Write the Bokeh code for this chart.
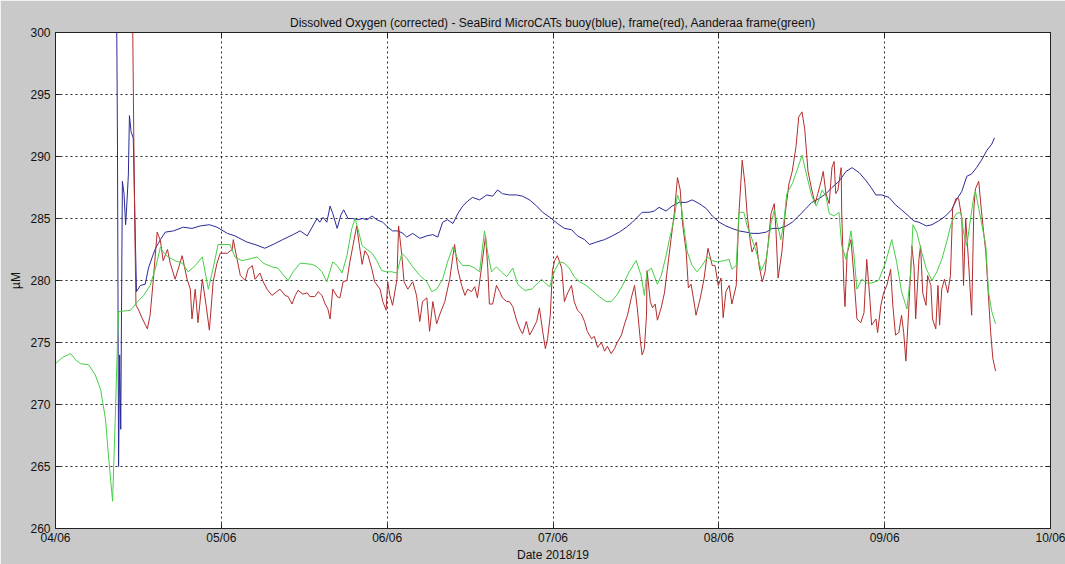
from bokeh.plotting import figure
from bokeh.models import Range1d, FixedTicker, LinearAxis
from bokeh.embed import file_html
from bokeh.resources import INLINE

# ---- data (days since 04/06, dissolved oxygen in µM) ----
tick_days = [0, 30.5, 61, 91.5, 122, 152.5, 183]
tick_labels = ["04/06", "05/06", "06/06", "07/06", "08/06", "09/06", "10/06"]
y_ticks = [260, 265, 270, 275, 280, 285, 290, 295, 300]

blue_day = [11.2, 11.4, 11.6, 11.8, 12.0, 12.3, 12.6, 12.9, 13.1, 13.4,
            13.6, 13.9, 14.3, 14.7, 14.9, 15.6, 16.5, 17.1, 17.8, 18.4,
            19.3, 20.2, 21.7, 23.5, 25.1, 26.6, 28.3, 29.7, 31.6, 33.0,
            35.2, 36.7, 38.5, 40.0, 41.8, 43.7, 45.0, 46.3, 47.2, 48.1,
            48.6, 49.2, 49.9, 50.5, 51.0, 51.8, 52.5, 53.0, 53.8, 54.7,
            55.6, 56.5, 57.3, 58.2, 59.1, 60.2, 61.1, 62.0, 63.0, 63.9,
            64.6, 65.7, 67.0, 68.3, 69.4, 70.3, 71.2, 72.1, 73.1, 74.0,
            74.9, 75.8, 76.7, 78.0, 79.3, 80.4, 81.3, 82.2, 83.5, 84.8,
            85.9, 87.2, 88.5, 89.6, 91.2, 92.3, 93.6, 94.9, 96.0, 97.3,
            98.2, 99.5, 101.0, 102.4, 103.7, 105.0, 106.1, 107.0, 107.9, 109.2,
            110.1, 111.0, 112.3, 113.4, 114.7, 116.0, 117.1, 118.4, 119.7, 120.8,
            122.1, 123.3, 124.4, 125.7, 127.0, 128.1, 129.4, 130.7, 131.8, 133.1,
            134.4, 135.5, 136.7, 138.0, 139.1, 140.4, 141.7, 142.8, 144.1, 145.4,
            146.5, 147.8, 149.0, 150.0, 150.9, 152.0, 153.3, 154.5, 155.6, 156.9,
            157.9, 158.8, 159.7, 160.2, 161.2, 162.4, 163.7, 164.8, 165.7, 166.7,
            167.6, 168.5, 169.4, 170.3, 171.3, 172.2, 172.7]
blue_val = [305, 291, 265, 274, 268, 288, 287, 284.5, 286, 288.5,
            293.3, 292, 291.5, 283, 279.1, 279.6, 279.7, 281, 281.9, 282.6,
            283.3, 283.9, 284.0, 284.3, 284.2, 284.4, 284.5, 284.3, 283.8, 283.6,
            283.1, 282.9, 282.6, 282.9, 283.3, 283.7, 284.0, 283.6, 284.3, 285.0,
            284.7, 285.1, 284.7, 286.0, 285.4, 284.2, 285.3, 285.7, 285.0, 285.0,
            284.9, 285.0, 284.9, 285.2, 284.9, 284.7, 284.3, 284.0, 284.0, 283.8,
            283.5, 283.8, 283.4, 283.6, 283.7, 283.5, 284.7, 284.9, 284.6, 285.4,
            286.0, 286.4, 286.7, 286.5, 286.9, 286.8, 287.3, 287.0, 286.9, 286.9,
            286.8, 286.5, 286.0, 285.5, 285.0, 284.6, 284.2, 284.1, 283.6, 283.3,
            282.9, 283.1, 283.3, 283.6, 283.9, 284.3, 284.7, 285.1, 285.5, 285.5,
            285.6, 285.9, 285.6, 286.0, 286.3, 286.3, 286.5, 286.2, 285.8, 285.2,
            284.7, 284.4, 284.2, 284.0, 283.9, 283.8, 283.8, 283.9, 284.2, 284.2,
            284.4, 284.7, 285.2, 285.8, 286.3, 286.6, 287.0, 287.5, 288.0, 288.8,
            289.1, 288.7, 288.1, 287.5, 286.9, 286.9, 286.7, 286.1, 285.7, 285.2,
            284.8, 284.7, 284.5, 284.4, 284.5, 284.8, 285.2, 285.7, 286.5, 287.2,
            288.4, 288.6, 289.1, 289.7, 290.5, 291.0, 291.5]

red_day = [14.1, 14.4, 14.6, 14.8, 15.2, 16.0, 16.9, 17.4, 18.0, 18.7,
           19.3, 19.8, 20.6, 21.1, 22.0, 23.3, 24.2, 24.8, 25.1, 25.7,
           26.2, 27.0, 27.7, 28.3, 29.0, 29.7, 30.3, 31.6, 32.5, 32.7,
           33.4, 34.0, 34.9, 35.4, 36.2, 36.7, 37.6, 38.2, 38.9, 39.8,
           40.7, 41.3, 42.2, 42.8, 43.5, 44.1, 44.6, 45.5, 46.3, 46.8,
           47.7, 48.3, 49.0, 49.6, 50.1, 50.5, 51.0, 51.8, 52.3, 52.9,
           53.6, 54.1, 54.7, 55.4, 55.8, 56.4, 56.9, 57.5, 58.2, 58.7,
           59.7, 60.2, 60.8, 61.1, 61.5, 62.0, 62.8, 63.1, 63.7, 64.1,
           64.8, 65.7, 66.4, 67.0, 67.5, 68.3, 68.8, 69.4, 70.1, 70.7,
           71.6, 72.5, 73.1, 73.4, 74.0, 74.7, 75.3, 75.8, 76.5, 77.1,
           77.6, 78.4, 79.1, 79.5, 79.8, 80.4, 81.1, 81.7, 82.2, 83.0,
           83.5, 84.1, 84.8, 85.4, 85.9, 86.6, 87.2, 87.7, 88.5, 89.0,
           89.6, 90.1, 90.5, 91.0, 91.4, 91.8, 92.3, 93.1, 93.6, 94.2,
           94.9, 95.4, 96.0, 96.7, 97.3, 97.8, 98.6, 99.1, 99.7, 100.4,
           101.0, 101.5, 102.2, 102.8, 103.3, 104.1, 104.6, 105.2, 105.9, 106.5,
           107.0, 107.6, 107.9, 108.3, 108.7, 108.8, 109.4, 109.8, 110.3, 110.7,
           111.4, 112.0, 112.5, 113.2, 113.8, 114.4, 114.9, 115.3, 116.0, 116.4,
           116.9, 117.5, 117.8, 118.6, 119.3, 120.0, 120.8, 121.3, 121.9, 122.4,
           122.8, 123.3, 123.9, 124.4, 125.2, 125.7, 126.3, 126.8, 127.2, 127.8,
           128.1, 128.9, 129.4, 130.0, 130.5, 131.1, 131.6, 132.2, 132.5, 132.9,
           133.6, 134.2, 134.9, 135.5, 136.2, 136.7, 137.3, 137.8, 138.4, 139.1,
           139.7, 140.2, 140.8, 141.2, 141.7, 142.3, 142.8, 143.2, 143.5, 143.9,
           144.5, 144.6, 145.0, 145.2, 145.6, 146.3, 146.8, 147.4, 148.1, 148.7,
           149.2, 149.8, 150.1, 150.9, 151.2, 151.8, 152.3, 152.9, 153.6, 154.0,
           154.5, 155.1, 155.6, 156.0, 156.4, 156.9, 157.5, 157.9, 158.2, 158.8,
           159.1, 159.5, 160.1, 160.4, 161.0, 161.3, 161.9, 162.3, 162.6, 163.0,
           163.5, 164.1, 164.6, 165.0, 165.6, 166.1, 166.7, 167.0, 167.4, 167.9,
           168.5, 168.9, 169.2, 169.8, 170.3, 170.7, 171.1, 171.6, 172.0, 172.4,
           172.9]
red_val = [305, 291.5, 284, 278, 277.7, 276.9, 276.1, 277.2, 280.1, 283.9,
           283.2, 281.6, 282.5, 281.4, 280.1, 282.0, 280.1, 279.3, 276.9, 279.3,
           276.6, 280.1, 278.0, 276.0, 279.9, 281.4, 282.2, 282.2, 282.5, 283.3,
           281.7, 280.4, 280.0, 280.9, 281.2, 280.1, 280.6, 279.9, 279.3, 278.8,
           279.1, 279.3, 278.8, 278.7, 278.1, 278.8, 279.2, 278.9, 279.0, 278.7,
           278.7, 279.1, 278.8, 278.1, 277.7, 276.9, 279.3, 278.7, 278.6, 279.9,
           280.0, 281.4, 282.8, 284.4, 283.1, 281.3, 282.4, 282.0, 280.9, 279.9,
           279.3, 278.3, 277.6, 279.9, 278.8, 278.0, 280.1, 284.4, 282.0, 279.9,
           279.3, 279.9, 278.8, 276.7, 278.3, 278.6, 275.9, 278.3, 276.5, 277.3,
           278.3, 280.1, 282.0, 282.9, 280.9, 279.6, 278.8, 279.3, 279.1, 279.5,
           278.6, 281.2, 283.6, 281.0, 278.1, 278.1, 279.6, 279.1, 278.6, 278.3,
           278.3, 277.9, 276.8, 276.1, 275.7, 276.7, 275.6, 276.0, 276.7, 277.8,
           275.9, 274.5, 275.3, 277.2, 280.8, 281.6, 282.0, 281.0, 278.3, 279.0,
           279.6, 278.3, 277.6, 277.3, 276.7, 275.9, 275.3, 275.5, 274.6, 275.0,
           274.3, 274.7, 274.1, 274.5, 275.0, 275.6, 276.4, 277.2, 278.6, 279.6,
           277.8, 275.0, 274.0, 274.5, 277.2, 280.8, 278.3, 277.8, 278.1, 276.8,
           277.8, 279.0, 280.8, 283.3, 285.4, 288.3, 287.3, 284.7, 282.3, 279.4,
           279.7, 278.1, 277.2, 278.6, 280.2, 282.6, 281.2, 281.2, 279.6, 280.2,
           277.0, 279.1, 279.6, 278.1, 279.6, 285.4, 289.7, 287.8, 285.4, 283.1,
           282.3, 283.1, 281.2, 279.9, 280.7, 283.1, 285.4, 286.2, 284.1, 280.2,
           282.3, 285.4, 287.8, 288.8, 290.8, 293.2, 293.6, 292.2, 288.8, 287.3,
           286.2, 287.0, 288.0, 288.8, 287.0, 286.2, 289.1, 289.6, 287.0, 287.3,
           289.1, 285.5, 279.5, 277.9, 282.2, 283.3, 280.6, 276.9, 276.6, 277.4,
           281.7, 278.4, 276.4, 276.9, 275.8, 278.0, 279.0, 279.6, 280.9, 278.0,
           275.6, 275.8, 277.2, 275.8, 273.5, 277.4, 282.8, 281.1, 276.9, 281.7,
           282.8, 279.0, 278.0, 280.4, 279.6, 276.9, 276.1, 279.6, 276.4, 279.3,
           280.1, 279.0, 280.4, 285.8, 286.6, 286.6, 285.0, 279.6, 285.0, 281.7,
           277.2, 285.8, 287.4, 288.0, 285.6, 283.9, 282.3, 278.6, 275.8, 273.7,
           272.7]

green_day = [0.0, 1.3, 2.8, 3.7, 4.6, 6.1, 7.3, 8.3, 9.2, 9.7,
             10.5, 11.0, 11.4, 11.6, 11.9, 13.8, 15.1, 16.2, 17.4, 18.4,
             19.3, 19.8, 20.7, 22.0, 23.3, 24.4, 25.7, 27.0, 28.1, 29.0,
             29.9, 30.8, 32.1, 33.0, 34.3, 35.4, 37.1, 38.2, 39.8, 40.9,
             41.8, 42.8, 43.7, 45.0, 47.2, 48.1, 49.0, 49.9, 51.0, 51.8,
             52.7, 53.6, 54.5, 55.1, 55.6, 56.4, 57.3, 58.2, 59.1, 60.0,
             60.9, 61.9, 62.8, 63.7, 64.6, 65.7, 67.0, 68.3, 69.2, 70.1,
             71.2, 72.1, 73.1, 74.0, 74.9, 76.2, 77.1, 78.0, 78.9, 79.5,
             80.2, 81.1, 82.0, 83.0, 84.1, 85.0, 86.3, 87.6, 88.5, 89.4,
             90.3, 90.9, 91.8, 92.7, 93.6, 94.5, 95.4, 96.4, 97.6, 98.7,
             100.0, 101.3, 102.2, 103.2, 104.3, 105.5, 106.8, 107.7, 108.3, 108.8,
             109.6, 110.1, 110.7, 111.4, 112.3, 112.9, 113.8, 114.4, 115.1, 115.6,
             116.2, 117.1, 118.0, 118.9, 119.9, 120.8, 121.7, 123.0, 123.9, 124.4,
             125.2, 125.7, 126.6, 127.2, 127.9, 128.9, 129.8, 130.7, 131.6, 132.2,
             132.7, 133.4, 134.0, 134.5, 135.5, 136.4, 137.3, 138.2, 139.1, 139.9,
             140.4, 141.0, 141.7, 142.3, 143.2, 144.1, 144.6, 145.4, 146.3, 146.8,
             147.4, 148.3, 149.2, 150.1, 151.4, 152.7, 153.8, 154.7, 155.6, 156.6,
             157.3, 157.7, 158.4, 159.3, 160.2, 161.2, 162.1, 163.0, 163.9, 164.8,
             165.7, 166.5, 167.0, 167.6, 168.3, 168.9, 169.2, 169.8, 170.3, 171.1,
             171.6, 172.2, 172.9]
green_val = [273.3, 273.8, 274.1, 273.6, 273.3, 273.2, 272.4, 271.2, 268.8, 266.1,
             262.2, 269.0, 275.0, 277.5, 277.5, 277.6, 278.3, 278.8, 279.6, 281.0,
             282.7, 282.3, 281.9, 281.6, 281.4, 280.7, 281.2, 281.9, 279.3, 281.0,
             282.9, 282.9, 282.9, 281.9, 281.6, 281.7, 281.9, 281.4, 281.1, 281.0,
             280.5, 280.0, 280.7, 281.4, 281.3, 281.1, 280.7, 279.9, 281.5, 281.2,
             280.6, 282.0, 284.2, 285.0, 284.2, 282.8, 282.5, 282.2, 281.6, 280.8,
             280.7, 280.7, 280.6, 282.2, 281.8, 281.1, 280.4, 279.9, 279.1, 279.3,
             280.1, 281.5, 282.7, 281.7, 281.2, 281.2, 281.0, 280.7, 284.0, 282.2,
             280.7, 281.1, 280.7, 280.3, 281.0, 279.7, 279.2, 279.3, 279.7, 280.1,
             279.7, 279.5, 280.8, 281.5, 281.4, 281.0, 280.3, 279.9, 279.6, 279.2,
             278.7, 278.3, 278.3, 278.8, 279.6, 280.7, 281.6, 280.4, 278.8, 280.7,
             281.0, 280.4, 279.7, 280.4, 282.0, 283.3, 285.0, 286.9, 286.0, 284.2,
             282.3, 281.2, 280.7, 281.2, 281.9, 281.6, 281.5, 281.6, 281.7, 280.9,
             281.2, 285.5, 285.5, 284.4, 283.6, 282.3, 280.8, 281.7, 284.6, 285.7,
             284.6, 283.3, 284.9, 287.0, 287.8, 288.9, 290.1, 288.4, 286.8, 286.0,
             286.5, 287.3, 286.8, 285.4, 285.2, 285.5, 282.8, 281.7, 284.0, 282.3,
             279.3, 280.1, 279.8, 279.8, 280.0, 281.5, 283.3, 281.5, 279.1, 277.7,
             280.7, 284.5, 283.9, 282.3, 280.9, 280.0, 280.7, 281.7, 283.1, 284.7,
             285.4, 285.5, 283.9, 282.8, 285.0, 286.8, 287.2, 285.8, 284.7, 282.8,
             279.1, 277.5, 276.5]

FONT = "Liberation Sans"
GREY = "#c9c9c9"
INK = "#111111"

p = figure(width=1065, height=564, output_backend="svg", toolbar_location=None,
           x_range=Range1d(tick_days[0], tick_days[-1]), y_range=Range1d(260, 300),
           min_border_left=55, min_border_right=15, min_border_top=32, min_border_bottom=33,
           title="Dissolved Oxygen (corrected) - SeaBird MicroCATs buoy(blue), frame(red), Aanderaa frame(green)")

p.border_fill_color = GREY
p.background_fill_color = "white"
p.outline_line_color = "#222222"
p.outline_line_width = 1

p.title.text_font = FONT
p.title.text_font_size = "12px"
p.title.text_font_style = "normal"
p.title.text_color = INK
p.title.align = "center"
p.title.standoff = 6

xt = FixedTicker(ticks=tick_days)
yt = FixedTicker(ticks=y_ticks)

# extra axes giving inward ticks on top and right (labels not painted)
p.add_layout(LinearAxis(ticker=xt, major_label_text_color=None, major_label_text_font_size="1px",
                        major_label_standoff=0), "above")
p.add_layout(LinearAxis(ticker=yt, major_label_text_color=None, major_label_text_font_size="1px",
                        major_label_standoff=0), "right")

for ax in p.axis:
    ax.major_tick_in = 5
    ax.major_tick_out = 0
    ax.minor_tick_line_color = None
    ax.axis_line_color = "#222222"
    ax.major_tick_line_color = "#222222"
    ax.major_label_text_font = FONT

xb = p.below[0]
xb.ticker = xt
xb.major_label_overrides = {t: s for t, s in zip(tick_days, tick_labels)}
xb.major_label_text_font_size = "12px"
xb.major_label_text_color = INK
xb.major_label_standoff = 2
xb.axis_label = "Date 2018/19"
xb.axis_label_text_font = FONT
xb.axis_label_text_font_size = "12px"
xb.axis_label_text_font_style = "normal"
xb.axis_label_text_color = INK
xb.axis_label_standoff = 0

yl = p.left[0]
yl.ticker = yt
yl.major_label_text_font_size = "12px"
yl.major_label_text_color = INK
yl.major_label_standoff = 5
yl.axis_label = "µM"
yl.axis_label_text_font = FONT
yl.axis_label_text_font_size = "12px"
yl.axis_label_text_font_style = "normal"
yl.axis_label_text_color = INK
yl.axis_label_standoff = 4

p.xgrid.ticker = xt
p.ygrid.ticker = yt
for g in (p.xgrid, p.ygrid):
    g.grid_line_color = INK
    g.grid_line_dash = "2 3"
    g.grid_line_width = 1
    g.grid_line_alpha = 0.9

p.line(blue_day, blue_val, line_color="#2a2a96", line_width=1)
p.line(red_day, red_val, line_color="#b52c2c", line_width=1)
p.line(green_day, green_val, line_color="#45cf45", line_width=1)

open("out.html", "w").write(file_html(p, INLINE))
